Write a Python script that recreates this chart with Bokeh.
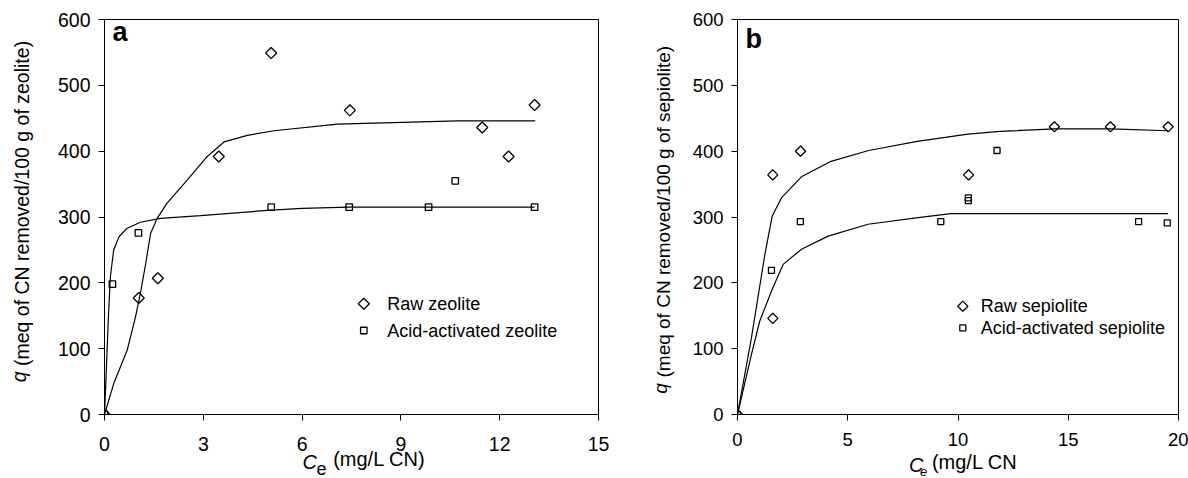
import numpy as np
from bokeh.plotting import figure
from bokeh.layouts import row
from bokeh.models import Range1d, FixedTicker, Label, LinearAxis
from bokeh.embed import file_html
from bokeh.resources import INLINE

FONT = "Liberation Sans"
NB = "\u00a0"  # non-breaking space, used to slide title pieces along their axis

# ---- (a) zeolite: measured points ----
raw_zeo_ce = [0, 1.04, 1.62, 3.47, 5.06, 7.45, 11.47, 12.27, 13.06]
raw_zeo_q = [0, 177, 207, 392, 549, 462, 436, 392, 470]
acid_zeo_ce = [0, 0.24, 1.03, 5.06, 7.43, 9.84, 10.65, 13.06]
acid_zeo_q = [0, 198, 276, 315, 315, 315, 355, 315]

# ---- (a) zeolite: fitted isotherms ----
raw_zeo_fit_ce = [0, 0.28, 0.69, 0.94, 1.09, 1.25, 1.40, 1.60, 1.90, 2.51, 3.12, 3.63, 4.34, 5.15, 7.07, 10.72, 13.08]
raw_zeo_fit_q = [0, 47, 98, 148, 184, 229, 275, 298, 321, 356, 392, 414, 424, 431, 441, 446, 446]
acid_zeo_fit_ce = [0, 0.05, 0.12, 0.18, 0.28, 0.44, 0.69, 1.09, 1.70, 2.92, 4.94, 6.0, 7.43, 13.06]
acid_zeo_fit_q = [0, 60, 150, 210, 250, 270, 283, 292, 298, 302, 310, 313, 315, 315]

# ---- (b) sepiolite: measured points ----
raw_sep_ce = [0, 1.60, 1.60, 2.86, 10.48, 14.37, 16.91, 19.53]
raw_sep_q = [0, 364, 146, 400, 364, 437, 437, 437]
acid_sep_ce = [0, 1.54, 2.85, 9.22, 10.47, 10.47, 11.77, 18.19, 19.49]
acid_sep_q = [0, 219, 293, 293, 329, 325, 401, 293, 291]

# ---- (b) sepiolite: fitted isotherms ----
raw_sep_fit_ce = [0, 0.63, 1.24, 1.57, 1.99, 2.9, 4.2, 5.95, 8.15, 10.45, 11.9, 14.38, 16.91, 19.53]
raw_sep_fit_q = [0, 116, 243, 301, 329, 361, 384, 401, 415, 426, 430, 434, 434, 431]
acid_sep_fit_ce = [0, 0.63, 1.01, 1.57, 2.07, 2.9, 4.11, 5.92, 8.19, 9.68, 19.53]
acid_sep_fit_q = [0, 91, 142, 190, 228, 251, 271, 289, 299, 305, 305]

q_ticks = [0, 100, 200, 300, 400, 500, 600]
ce_ticks_a = [0, 3, 6, 9, 12, 15]
ce_ticks_b = [0, 5, 10, 15, 20]

FRAME_H = 395
Q_MAX = 600


def make_panel(xmax, xticks, fw, left, right, top, bottom, tick_size, xstand):
    p = figure(frame_width=fw, frame_height=FRAME_H,
               min_border_left=left, min_border_right=right,
               min_border_top=top, min_border_bottom=bottom,
               x_range=Range1d(0, xmax), y_range=Range1d(0, Q_MAX),
               output_backend="svg", toolbar_location=None)
    p.xgrid.visible = False
    p.ygrid.visible = False
    p.outline_line_color = "black"
    p.outline_line_width = 1
    p.background_fill_color = "white"
    p.border_fill_color = "white"
    p.xaxis.ticker = FixedTicker(ticks=xticks)
    p.yaxis.ticker = FixedTicker(ticks=q_ticks)
    for ax in (p.xaxis[0], p.yaxis[0]):
        ax.minor_tick_line_color = None
        ax.major_tick_out = 6
        ax.major_tick_in = 0
        ax.axis_line_color = "black"
        ax.major_tick_line_color = "black"
        ax.major_label_text_font = FONT
        ax.major_label_text_font_size = tick_size
        ax.major_label_text_color = "black"
    p.xaxis.major_label_standoff = xstand
    p.yaxis.major_label_standoff = 8
    return p


def title_piece(p, side, text, size, style, standoff, lead=0, trail=0):
    """A tick-less axis carrying one piece of an axis title.
    Leading/trailing non-breaking spaces slide the centred piece along the axis."""
    ax = LinearAxis(ticker=FixedTicker(ticks=[]),
                    axis_line_color=None, major_tick_line_color=None,
                    minor_tick_line_color=None, major_tick_out=0, major_tick_in=0,
                    minor_tick_out=0, major_label_standoff=0,
                    axis_label=NB * lead + text + NB * trail,
                    axis_label_standoff=standoff,
                    axis_label_text_font=FONT, axis_label_text_font_size=size,
                    axis_label_text_font_style=style, axis_label_text_color="black")
    p.add_layout(ax, side)


def add_text(p, x, y, text, size, style="normal", baseline="alphabetic"):
    p.add_layout(Label(x=x, y=y, x_units="screen", y_units="screen", text=text,
                       text_font=FONT, text_font_size=size, text_font_style=style,
                       text_color="black", text_align="left", text_baseline=baseline))


def add_key(p, fw, xmax, sx, sy_list, markers, sizes, labels, text_dx):
    """Key of open symbols with labels; sx/sy are pixel offsets inside the frame."""
    kx = sx / fw * xmax
    for sy, (marker, angle), size, lab in zip(sy_list, markers, sizes, labels):
        ky = sy / FRAME_H * Q_MAX
        p.scatter([kx], [ky], marker=marker, angle=angle, size=size,
                  fill_color=None, line_color="black", line_width=1.3)
        add_text(p, sx + text_dx, sy, lab, "18px", baseline="middle")


DIAMOND = ("square", np.pi / 4)
SQUARE = ("square", 0.0)

# ------------------------------ panel a ------------------------------
pa = make_panel(15, ce_ticks_a, 494, 104, 22, 19, 64, "19.5px", 16)
pa.line(raw_zeo_fit_ce, raw_zeo_fit_q, line_color="black", line_width=1.2)
pa.line(acid_zeo_fit_ce, acid_zeo_fit_q, line_color="black", line_width=1.2)
pa.scatter(raw_zeo_ce, raw_zeo_q, marker="square", angle=np.pi / 4, size=7.8,
           fill_color=None, line_color="black", line_width=1.3)
pa.scatter(acid_zeo_ce, acid_zeo_q, marker="square", size=6.5,
           fill_color=None, line_color="black", line_width=1.3)
add_key(pa, 494, 15, 259.3, [110.7, 84], [DIAMOND, SQUARE], [7.8, 6.5],
        ["Raw zeolite", "Acid-activated zeolite"], 23.4)
add_text(pa, 8, 383, "a", "27px", style="bold")

# y title: italic q + "(meq ...)"
title_piece(pa, "left", "(meq of CN removed/100 g of zeolite)", "19.5px", "normal", 22, lead=5)
title_piece(pa, "left", "q", "19.5px", "italic", -22, trail=59)
# x title: italic C, subscript e, "(mg/L CN)"
title_piece(pa, "below", "(mg/L CN)", "20px", "normal", -6, lead=10)
title_piece(pa, "below", "C", "20px", "italic", -22, trail=15)
title_piece(pa, "below", "e", "18px", "normal", -17, trail=12)

# ------------------------------ panel b ------------------------------
pb = make_panel(20, ce_ticks_b, 441, 117, 10, 18, 65, "18.5px", 12)
pb.line(raw_sep_fit_ce, raw_sep_fit_q, line_color="black", line_width=1.2)
pb.line(acid_sep_fit_ce, acid_sep_fit_q, line_color="black", line_width=1.2)
pb.scatter(raw_sep_ce, raw_sep_q, marker="square", angle=np.pi / 4, size=7.2,
           fill_color=None, line_color="black", line_width=1.3)
pb.scatter(acid_sep_ce, acid_sep_q, marker="square", size=6,
           fill_color=None, line_color="black", line_width=1.3)
add_key(pb, 441, 20, 225.3, [108.3, 86.6], [DIAMOND, SQUARE], [7.2, 6],
        ["Raw sepiolite", "Acid-activated sepiolite"], 18)
add_text(pb, 8, 376, "b", "27px", style="bold")

title_piece(pb, "left", "(meq of CN removed/100 g of sepiolite)", "19px", "normal", 16, lead=2)
title_piece(pb, "left", "q", "19px", "italic", -21, trail=65)
title_piece(pb, "below", "(mg/L CN", "20px", "normal", 2, lead=6)
title_piece(pb, "below", "C", "20px", "italic", -22, trail=15)
title_piece(pb, "below", "e", "13px", "italic", -15, trail=19)

layout = row(pa, pb)
open("out.html", "w").write(file_html(layout, INLINE))
